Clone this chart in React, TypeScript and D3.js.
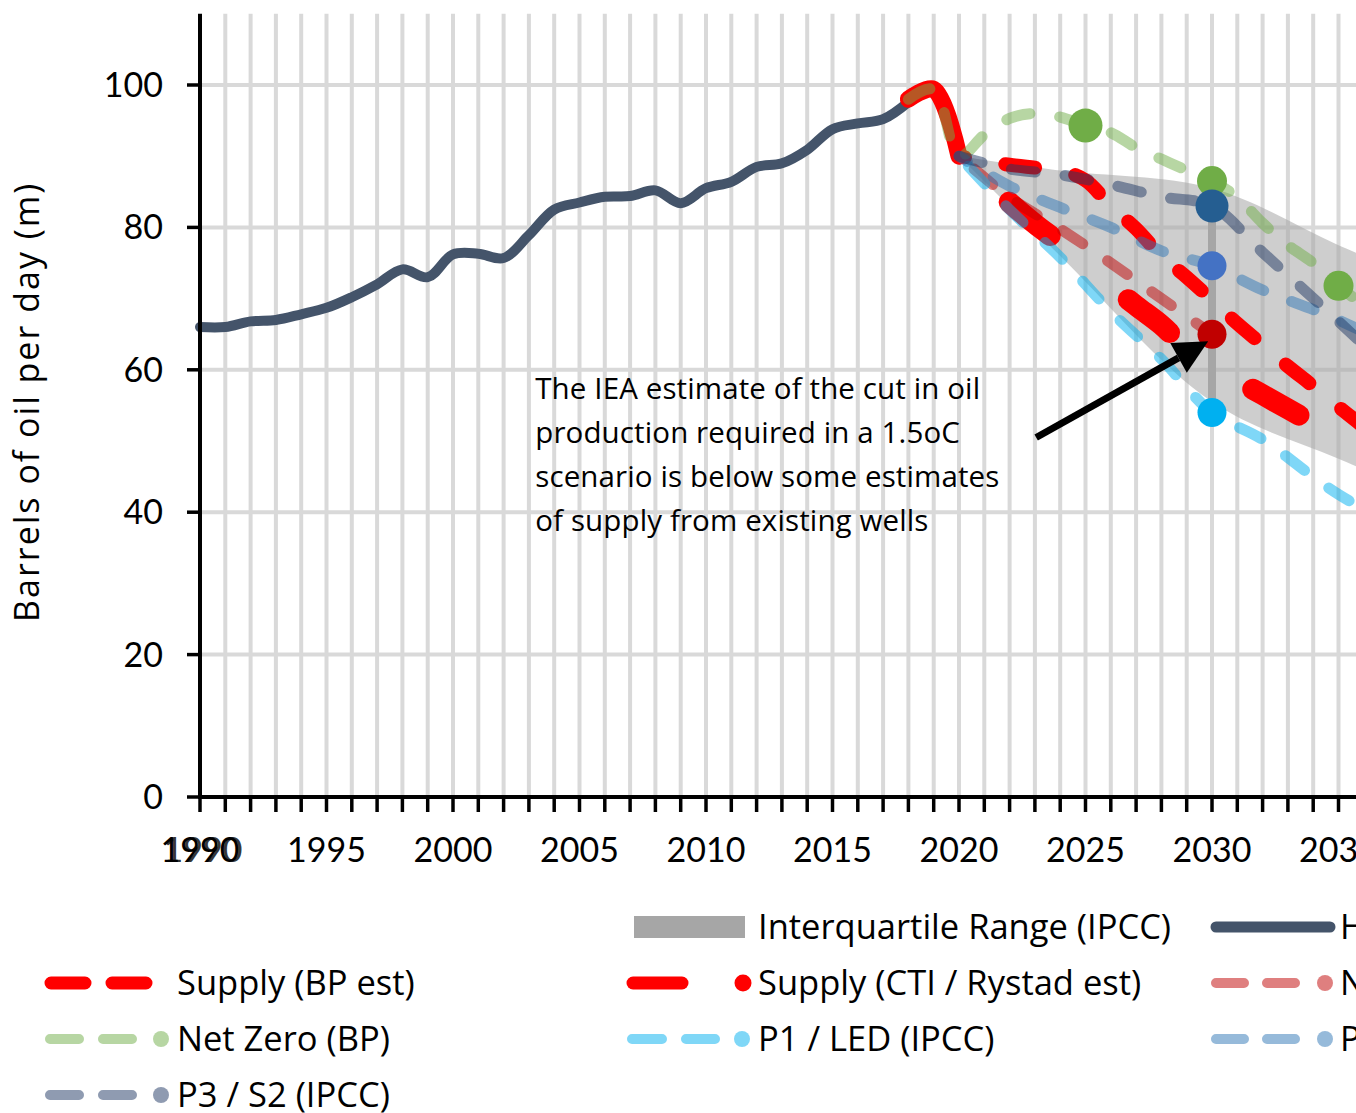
import React from 'react';
import * as d3 from 'd3';

const W = 1356;
const H = 1113;
const FONT = "Lato, 'Open Sans', sans-serif";
const TFONT = "'Open Sans', Lato, sans-serif";

// ---------- data ----------
const historyYears = [1990, 1991, 1992, 1993, 1994, 1995, 1996, 1997, 1998, 1999, 2000, 2001, 2002, 2003, 2004, 2005, 2006, 2007, 2008, 2009, 2010, 2011, 2012, 2013, 2014, 2015, 2016, 2017, 2018];
const historyValues = [66.0, 66.0, 66.8, 67.0, 67.8, 68.7, 70.2, 72.0, 74.1, 73.0, 76.2, 76.3, 75.7, 78.9, 82.5, 83.5, 84.3, 84.4, 85.2, 83.4, 85.5, 86.4, 88.5, 89.0, 90.9, 93.8, 94.6, 95.2, 97.6];

const recentYears = [2018, 2019, 2020];
const recentValues = [98.0, 99.4, 90.0];

const supplyBPYears = [2020, 2021, 2022, 2023, 2024, 2025, 2026, 2027, 2028, 2029, 2030, 2031, 2032, 2033, 2034, 2035, 2036, 2037];
const supplyBPValues = [90.0, 89.3, 88.8, 88.4, 88.0, 86.6, 83.0, 79.8, 76.0, 73.0, 69.8, 66.5, 63.5, 60.5, 57.7, 54.8, 52.0, 49.5];

const ctiYears = [2020, 2021, 2022, 2023, 2024, 2025, 2026, 2027, 2028, 2029, 2030, 2031, 2032, 2033, 2034, 2035, 2036, 2037];
const ctiValues = [90.0, 87.0, 83.5, 80.5, 77.8, 74.8, 71.8, 69.0, 66.3, 63.0, 61.0, 58.5, 56.5, 54.5, 52.5, 50.5, 48.5, 46.5];

const netZeroBPYears = [2018, 2019, 2020, 2021, 2022, 2023, 2024, 2025, 2026, 2027, 2028, 2029, 2030, 2031, 2032, 2033, 2034, 2035, 2036, 2037];
const netZeroBPValues = [98.0, 99.4, 90.0, 93.0, 95.3, 96.0, 95.5, 94.3, 93.3, 91.2, 89.6, 88.0, 86.5, 84.2, 80.6, 77.5, 75.0, 71.8, 69.0, 66.0];
const netZeroBPMarkerYears = [2025, 2030, 2035];
const netZeroBPMarkerValues = [94.3, 86.5, 71.8];

const ieaYears = [2020, 2022, 2024, 2026, 2028, 2030];
const ieaValues = [90.0, 84.2, 79.8, 75.0, 70.0, 65.0];

const p1Years = [2020, 2022, 2024, 2026, 2028, 2030, 2032, 2035, 2040];
const p1Values = [90.0, 82.5, 75.8, 68.2, 61.5, 54.0, 50.2, 42.5, 33.0];

const p2Years = [2020, 2022, 2024, 2026, 2028, 2030, 2032, 2035, 2040];
const p2Values = [90.0, 85.8, 82.8, 80.0, 76.7, 74.6, 71.2, 67.0, 58.0];

const p3Years = [2020, 2022, 2024, 2026, 2028, 2030, 2032, 2035, 2040];
const p3Values = [90.0, 88.2, 87.4, 86.0, 84.3, 83.0, 76.5, 66.8, 50.0];

const iqrYears = [2020, 2024, 2030, 2035, 2040];
const iqrUpper = [90.0, 88.0, 85.5, 77.5, 70.0];
const iqrLower = [90.0, 76.0, 55.5, 47.5, 40.0];

const markerYear = 2030;
const markerNames = ['P3 / S2 (IPCC)', 'P2 / S1 (IPCC)', 'Net Zero (IEA)', 'P1 / LED (IPCC)'];
const markerValues = [83.0, 74.6, 65.0, 54.0];

const yTicks = [0, 20, 40, 60, 80, 100];
const xLabelYears = [1990, 1995, 2000, 2005, 2010, 2015, 2020, 2025, 2030, 2035, 2040, 2045, 2050];

const annotationLines = [
  'The IEA estimate of the cut in oil',
  'production required in a 1.5oC',
  'scenario is below some estimates',
  'of supply from existing wells',
];

// ---------- scales ----------
const x = d3.scaleLinear().domain([1990, 2050]).range([200, 200 + 60 * 25.3]);
const y = d3.scaleLinear().domain([0, 110]).range([797, 797 - 110 * 7.12]);

const curve = d3.curveCatmullRom.alpha(0.5);
const mkLine = (ys: number[], vs: number[]) =>
  d3.line<number>().x((_, i) => x(ys[i])).y((v) => y(v)).curve(curve)(vs) || '';

const bandPath =
  d3
    .area<number>()
    .x((_, i) => x(iqrYears[i]))
    .y0((_, i) => y(iqrLower[i]))
    .y1((v) => y(v))
    .curve(curve)(iqrUpper) || '';

const C = {
  hist: '#44546A',
  red: '#FF0000',
  nzbp: '#70AD47',
  iea: '#C00000',
  p1: '#00B0F0',
  p2: '#2E75B6',
  p3: '#1F3864',
  iqr: '#A6A6A6',
  grid: '#D9D9D9',
};
const markerColors = ['#255E91', '#4472C4', '#C00000', '#00B0F0'];

const SemiDash = { strokeWidth: 11, strokeDasharray: '24 30', strokeLinecap: 'round' as const, strokeOpacity: 0.5, fill: 'none' };

export default function App() {
  const gridYears = d3.range(1991, 2051);
  const tickYears = d3.range(1990, 2051);

  // arrow
  const a0 = [x(2023.05), y(50.5)];
  const a1 = [x(2029.85), y(64.0)];
  const ang = Math.atan2(a1[1] - a0[1], a1[0] - a0[0]);
  const headL = 34;
  const headW = 17;
  const base = [a1[0] - headL * Math.cos(ang), a1[1] - headL * Math.sin(ang)];
  const perp = [-Math.sin(ang), Math.cos(ang)];
  const head = [
    a1,
    [base[0] + perp[0] * headW, base[1] + perp[1] * headW],
    [base[0] - perp[0] * headW, base[1] - perp[1] * headW],
  ]
    .map((p) => p.join(','))
    .join(' ');

  const legendText = { fontFamily: TFONT, fontSize: 34.5, fill: '#000' };

  return (
    <svg width={W} height={H} style={{ position: 'absolute', left: 0, top: 0, background: '#fff' }}>
      {/* grid */}
      {gridYears.map((g) => (
        <line key={'gv' + g} x1={x(g)} x2={x(g)} y1={y(110)} y2={y(0)} stroke={C.grid} strokeWidth={4} />
      ))}
      {yTicks.filter((t) => t > 0).map((t) => (
        <line key={'gh' + t} x1={x(1990)} x2={W + 10} y1={y(t)} y2={y(t)} stroke={C.grid} strokeWidth={4} />
      ))}

      {/* IQR band */}
      <path d={bandPath} fill={C.iqr} fillOpacity={0.55} />
      <line x1={x(markerYear)} x2={x(markerYear)} y1={y(markerValues[0])} y2={y(markerValues[3])} stroke={C.iqr} strokeWidth={8} />

      {/* history */}
      <path d={mkLine(historyYears, historyValues)} fill="none" stroke={C.hist} strokeWidth={10} strokeLinecap="round" strokeLinejoin="round" />
      <path d={mkLine(recentYears, recentValues)} fill="none" stroke={C.red} strokeWidth={17} strokeLinecap="round" strokeLinejoin="round" />

      {/* supply lines */}
      <path d={mkLine(ctiYears, ctiValues)} fill="none" stroke={C.red} strokeWidth={21} strokeLinecap="round" strokeDasharray="53 101" strokeDashoffset={-68} />
      <path d={mkLine(supplyBPYears, supplyBPValues)} fill="none" stroke={C.red} strokeWidth={14} strokeLinecap="round" strokeDasharray="30 41" strokeDashoffset={-47} />

      {/* scenario lines */}
      <path d={mkLine(netZeroBPYears, netZeroBPValues)} stroke={C.nzbp} {...SemiDash} />
      <path d={mkLine(ieaYears, ieaValues)} stroke={C.iea} {...SemiDash} strokeDashoffset={-20} />
      <path d={mkLine(p1Years, p1Values)} stroke={C.p1} {...SemiDash} strokeDashoffset={-14} />
      <path d={mkLine(p2Years, p2Values)} stroke={C.p2} {...SemiDash} strokeDashoffset={-40} />
      <path d={mkLine(p3Years, p3Values)} stroke={C.p3} {...SemiDash} />

      {/* markers */}
      {netZeroBPMarkerYears.map((yr, i) => (
        <circle key={'nzm' + yr} cx={x(yr)} cy={y(netZeroBPMarkerValues[i])} r={i === 0 ? 17 : 15} fill={C.nzbp} />
      ))}
      {markerNames.map((n, i) => (
        <circle key={n} cx={x(markerYear)} cy={y(markerValues[i])} r={i === 0 ? 16.5 : 14.5} fill={markerColors[i]} />
      ))}

      {/* axes */}
      <line x1={x(1990)} x2={x(1990)} y1={y(110)} y2={y(0) + 2} stroke="#000" strokeWidth={4} />
      <line x1={x(1990) - 2} x2={W + 10} y1={y(0)} y2={y(0)} stroke="#000" strokeWidth={4} />
      {yTicks.map((t) => (
        <g key={'yt' + t}>
          <line x1={x(1990) - 13} x2={x(1990)} y1={y(t)} y2={y(t)} stroke="#000" strokeWidth={3.5} />
          <text x={x(1990) - 37} y={y(t)} dy="0.35em" textAnchor="end" fontFamily={FONT} fontSize={34} fill="#000">
            {t}
          </text>
        </g>
      ))}
      {tickYears.map((t) => (
        <line key={'xt' + t} x1={x(t)} x2={x(t)} y1={y(0)} y2={y(0) + 15} stroke="#000" strokeWidth={3.5} />
      ))}
      {xLabelYears.map((t) => (
        <text key={'xl' + t} x={x(t)} y={862} textAnchor="middle" fontFamily={FONT} fontSize={34} fill="#000">
          {t}
        </text>
      ))}
      <text x={x(1990) + 3} y={862} textAnchor="middle" fontFamily={FONT} fontSize={34} fill="#000" fillOpacity={0.8}>
        1990
      </text>

      <text
        transform={`translate(39, ${y(55.5)}) rotate(-90)`}
        textAnchor="middle"
        fontFamily={TFONT}
        fontSize={34}
        letterSpacing={2}
        fill="#000"
      >
        Barrels of oil per day (m)
      </text>

      {/* annotation */}
      <line x1={a0[0]} y1={a0[1]} x2={base[0]} y2={base[1]} stroke="#000" strokeWidth={7} />
      <polygon points={head} fill="#000" />
      {annotationLines.map((l, i) => (
        <text key={l} x={x(2003.25)} y={y(55.9) + i * 44} fontFamily={TFONT} fontSize={29.5} letterSpacing={0.12} fill="#000">
          {l}
        </text>
      ))}

      {/* legend */}
      <g>
        {/* row 1 */}
        <rect x={634} y={916} width={111} height={22} fill={C.iqr} />
        <text x={758} y={939} {...legendText}>Interquartile Range (IPCC)</text>
        <line x1={1216} x2={1330} y1={927} y2={927} stroke={C.hist} strokeWidth={11} strokeLinecap="round" />
        <text x={1340} y={939} {...legendText}>Historical</text>

        {/* row 2 */}
        <line x1={51} x2={146} y1={983} y2={983} stroke={C.red} strokeWidth={13} strokeLinecap="round" strokeDasharray="34 27" />
        <text x={177} y={995} {...legendText}>Supply (BP est)</text>
        <line x1={633} x2={682} y1={983} y2={983} stroke={C.red} strokeWidth={13} strokeLinecap="round" />
        <circle cx={743} cy={983} r={8.5} fill={C.red} />
        <text x={758} y={995} {...legendText}>Supply (CTI / Rystad est)</text>
        <line x1={1216} x2={1297} y1={983} y2={983} stroke={C.iea} strokeOpacity={0.5} strokeWidth={10} strokeLinecap="round" strokeDasharray="28 23" />
        <circle cx={1325} cy={983} r={8} fill={C.iea} fillOpacity={0.5} />
        <text x={1340} y={995} {...legendText}>Net Zero (IEA)</text>

        {/* row 3 */}
        <line x1={50} x2={132} y1={1039} y2={1039} stroke={C.nzbp} strokeOpacity={0.5} strokeWidth={10} strokeLinecap="round" strokeDasharray="29 24" />
        <circle cx={161} cy={1039} r={8} fill={C.nzbp} fillOpacity={0.5} />
        <text x={177} y={1051} {...legendText}>Net Zero (BP)</text>
        <line x1={632} x2={715} y1={1039} y2={1039} stroke={C.p1} strokeOpacity={0.5} strokeWidth={10} strokeLinecap="round" strokeDasharray="30 24" />
        <circle cx={742} cy={1039} r={8} fill={C.p1} fillOpacity={0.5} />
        <text x={758} y={1051} {...legendText}>P1 / LED (IPCC)</text>
        <line x1={1216} x2={1297} y1={1039} y2={1039} stroke={C.p2} strokeOpacity={0.5} strokeWidth={10} strokeLinecap="round" strokeDasharray="28 23" />
        <circle cx={1325} cy={1039} r={8} fill={C.p2} fillOpacity={0.5} />
        <text x={1340} y={1051} {...legendText}>P2 / S1 (IPCC)</text>

        {/* row 4 */}
        <line x1={50} x2={132} y1={1095} y2={1095} stroke={C.p3} strokeOpacity={0.5} strokeWidth={10} strokeLinecap="round" strokeDasharray="29 24" />
        <circle cx={161} cy={1095} r={8} fill={C.p3} fillOpacity={0.5} />
        <text x={177} y={1107} {...legendText}>P3 / S2 (IPCC)</text>
      </g>
    </svg>
  );
}
